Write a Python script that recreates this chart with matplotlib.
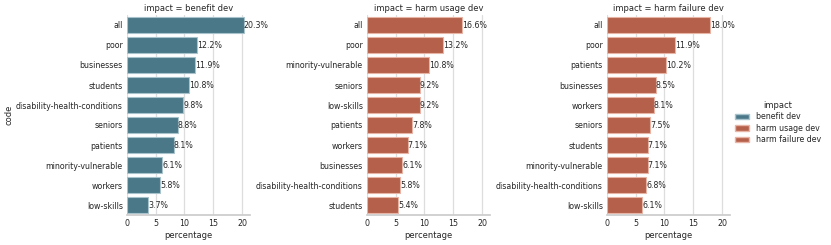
import matplotlib
matplotlib.use("Agg")
import matplotlib.pyplot as plt
import matplotlib.patches as mpatches
import seaborn as sns

sns.set_theme(style="whitegrid")
plt.rcParams['font.family'] = ['DejaVu Sans']

impacts = ['benefit dev', 'harm usage dev', 'harm failure dev']
colors = ['#4a7888', '#b5604a', '#b5604a']
edges = ['#a9c3cc', '#e8b4a6', '#e8b4a6']

benefit_codes = ['all', 'poor', 'businesses', 'students', 'disability-health-conditions',
                 'seniors', 'patients', 'minority-vulnerable', 'workers', 'low-skills']
benefit_vals = [20.3, 12.2, 11.9, 10.8, 9.8, 8.8, 8.1, 6.1, 5.8, 3.7]

usage_codes = ['all', 'poor', 'minority-vulnerable', 'seniors', 'low-skills',
               'patients', 'workers', 'businesses', 'disability-health-conditions', 'students']
usage_vals = [16.6, 13.2, 10.8, 9.2, 9.2, 7.8, 7.1, 6.1, 5.8, 5.4]

failure_codes = ['all', 'poor', 'patients', 'businesses', 'workers',
                 'seniors', 'students', 'minority-vulnerable', 'disability-health-conditions', 'low-skills']
failure_vals = [18.0, 11.9, 10.2, 8.5, 8.1, 7.5, 7.1, 7.1, 6.8, 6.1]

codes = [benefit_codes, usage_codes, failure_codes]
vals = [benefit_vals, usage_vals, failure_vals]

fig = plt.figure(figsize=(8.31, 2.45), dpi=100)
lefts = [127, 367, 607]
fs = 5.7
for i in range(3):
    ax = fig.add_axes([lefts[i] / 831, 1 - 215 / 245, 123 / 831, 200 / 245])
    y = list(range(len(codes[i])))
    bars = ax.barh(y, vals[i], height=0.8, color=colors[i], edgecolor=edges[i], linewidth=0.8)
    ax.bar_label(bars, labels=[f'{v:.1f}%' for v in vals[i]], fontsize=fs, color='#262626', padding=0)
    ax.set_yticks(y)
    ax.set_yticklabels(codes[i])
    ax.set_ylim(9.5, -0.5)
    ax.set_xlim(0, 21.4)
    ax.set_xticks([0, 5, 10, 15, 20])
    ax.tick_params(labelsize=fs, length=0, pad=3)
    ax.grid(axis='y', visible=False)
    ax.grid(axis='x', color='#dddddd', linewidth=0.9)
    ax.set_axisbelow(True)
    for s in ['left', 'top', 'right']:
        ax.spines[s].set_visible(False)
    ax.spines['bottom'].set_color('#cccccc')
    ax.set_xlabel('percentage', fontsize=fs + 0.3, labelpad=2)
    if i == 0:
        ax.set_ylabel('code', fontsize=fs + 0.3, labelpad=2)
    ax.set_title(f'impact = {impacts[i]}', fontsize=fs + 0.3, pad=3)

handles = [mpatches.Patch(facecolor=colors[k], edgecolor=edges[k], label=impacts[k]) for k in range(3)]
fig.legend(handles=handles, title='impact', loc='center left', bbox_to_anchor=(728 / 831, 0.5),
           frameon=False, fontsize=fs, title_fontsize=fs + 0.3, handlelength=1.8, handletextpad=0.8,
           labelspacing=0.3)

fig.savefig('out.png', dpi=100)
